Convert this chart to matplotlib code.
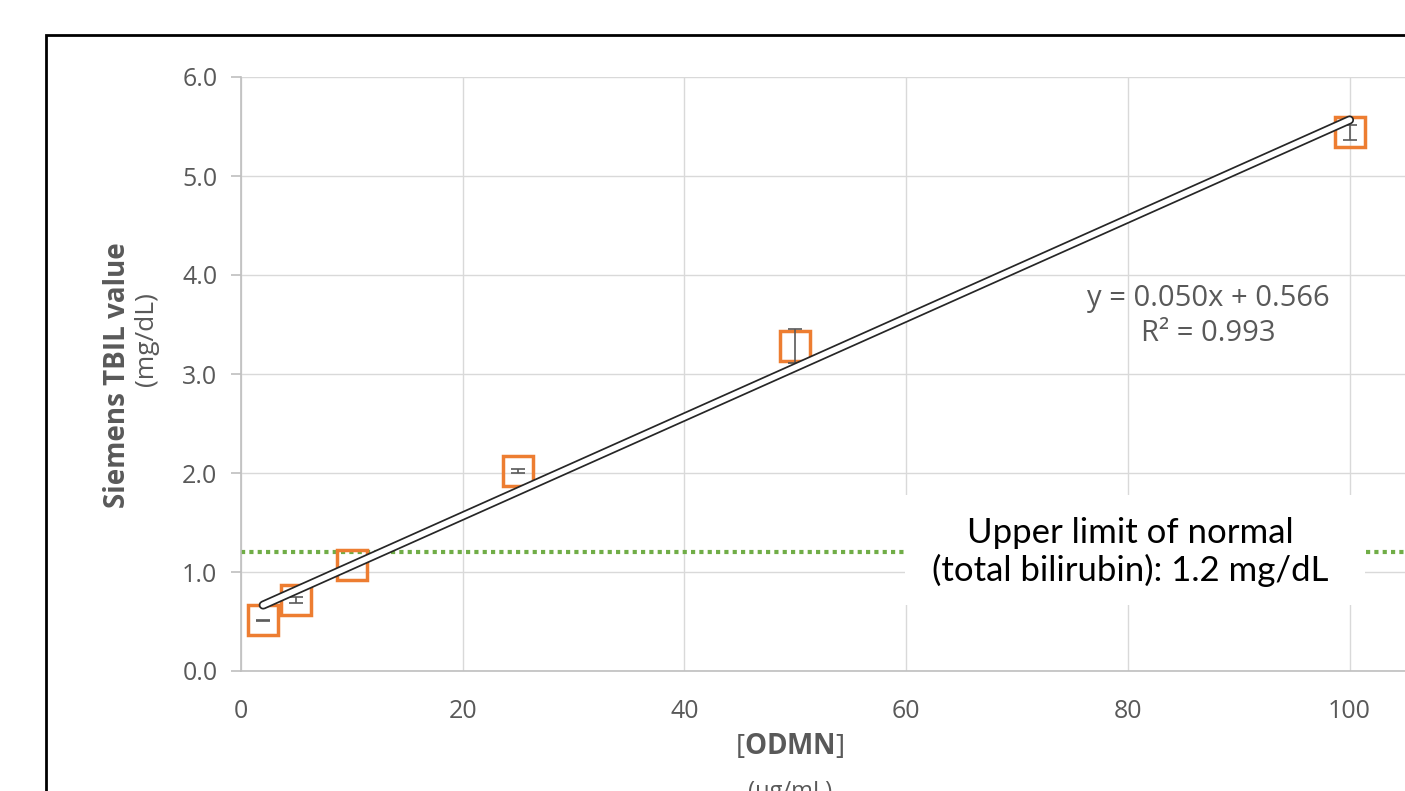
import numpy as np
import matplotlib.pyplot as plt
from matplotlib.patches import Rectangle

plt.rcParams['font.family'] = ['Open Sans', 'DejaVu Sans']
plt.rcParams['mathtext.fontset'] = 'custom'
plt.rcParams['mathtext.bf'] = 'Open Sans:bold'
plt.rcParams['mathtext.rm'] = 'Open Sans'

odmn = [2, 5, 10, 25, 50, 100]
tbil = [0.515, 0.717, 1.07, 2.02, 3.285, 5.44]
tbil_err = [0.005, 0.03, 0.005, 0.025, 0.17, 0.08]
slope, intercept = 0.050, 0.566
r2 = 0.993
uln = 1.2

W, H = 1405, 791
fig = plt.figure(figsize=(W / 100, H / 100), dpi=100)
ax = fig.add_axes([241 / W, 1 - 671 / H, 1 - 241 / W, (671 - 77) / H])

ax.plot(odmn, tbil, 's', ms=21, mfc='none', mec='#ED7D31', mew=2.5, zorder=3)
ax.errorbar(odmn, tbil, yerr=tbil_err, fmt='none', ecolor='#595959', elinewidth=1.2,
            capsize=5, capthick=1.2, zorder=4)

# linear trendline
xf = np.array([min(odmn), max(odmn)])
yf = slope * xf + intercept
ax.plot(xf, yf, color='#262626', lw=6.5, solid_capstyle='round', zorder=5)
ax.plot(xf, yf, color='white', lw=4, solid_capstyle='round', zorder=6)

ax.axhline(uln, color='#70AD47', lw=3, ls=(0, (1, 1)), zorder=2)

ax.set_xlim(0, 105)
ax.set_ylim(0, 6)
ax.set_xticks([0, 20, 40, 60, 80, 100])
yt = np.arange(0, 6.01, 1.0)
ax.set_yticks(yt)
ax.set_yticklabels([f'{v:.1f}' for v in yt])
ax.grid(True, color='#D9D9D9', lw=1)
ax.set_axisbelow(True)
for s in ['top', 'right']:
    ax.spines[s].set_visible(False)
for s in ['left', 'bottom']:
    ax.spines[s].set_color('#BFBFBF')
    ax.spines[s].set_linewidth(1.2)
ax.tick_params(axis='x', length=0, pad=20, labelsize=18, labelcolor='#595959')
ax.tick_params(axis='y', length=7, width=1.2, color='#BFBFBF', pad=10,
               labelsize=18, labelcolor='#595959')

fig.text(1208 / W, 1 - 316 / H, f'y = {slope:.3f}x + {intercept:.3f}\nR² = {r2:.3f}',
         ha='center', va='center', fontsize=21, color='#595959', linespacing=1.3,
         multialignment='center')

fig.patches.append(Rectangle((905 / W, 1 - 605 / H), 460 / W, 110 / H, transform=fig.transFigure,
                             facecolor='white', edgecolor='none', zorder=10))
fig.text(1130 / W, 1 - 552 / H, 'Upper limit of normal\n(total bilirubin): 1.2 mg/dL',
         ha='center', va='center', fontsize=25, family=['Lato', 'DejaVu Sans'],
         color='black', linespacing=1.15, zorder=11)

fig.text(118 / W, 1 - 375 / H, 'Siemens TBIL value', rotation=90, ha='center', va='center',
         fontsize=20, fontweight='bold', color='#595959')
fig.text(146 / W, 1 - 339 / H, '(mg/dL)', rotation=90, ha='center', va='center',
         fontsize=19, color='#595959')

fig.text(790 / W, 1 - 746 / H, r'[$\mathbf{ODMN}$]', ha='center', va='center', fontsize=20,
         color='#595959')
fig.text(790 / W, 1 - 792 / H, '(µg/mL)', ha='center', va='center', fontsize=17, color='#595959')

fig.patches.append(Rectangle((46 / W, -0.1), 1.2, 1 - 35 / H + 0.1, transform=fig.transFigure,
                             facecolor='none', edgecolor='black', lw=2, zorder=20))

fig.savefig('out.png', dpi=100)
